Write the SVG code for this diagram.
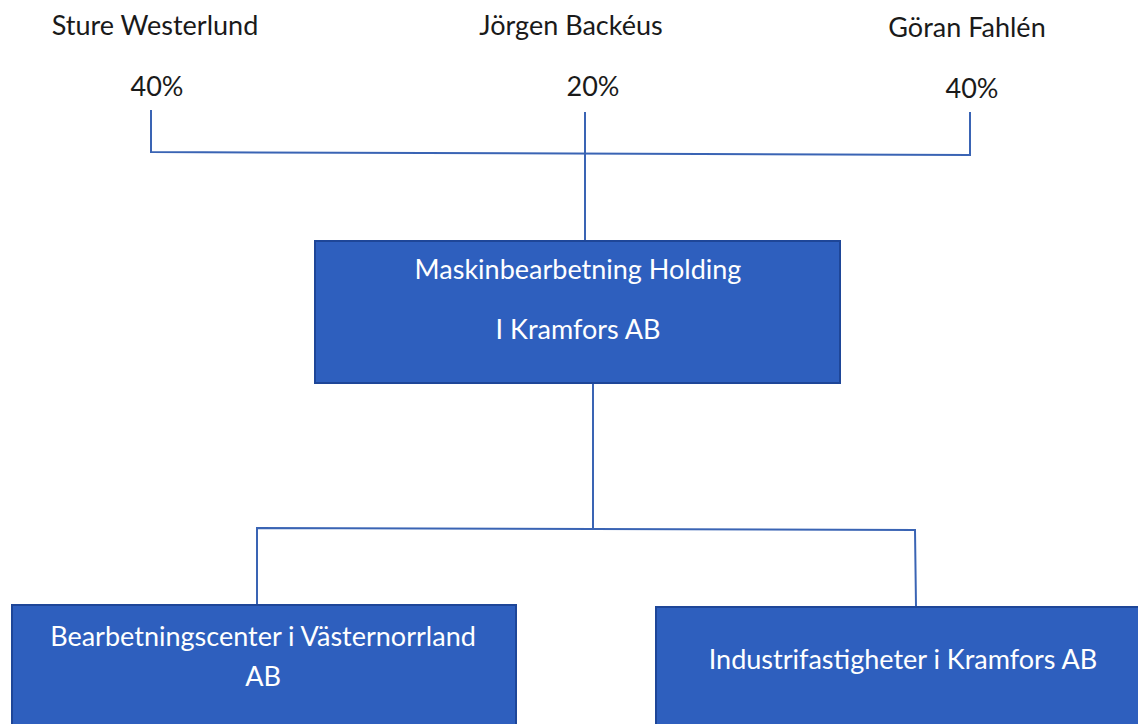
<svg xmlns="http://www.w3.org/2000/svg" width="1138" height="724" viewBox="0 0 1138 724">
<style>
.lbl{font-family:Lato,"Open Sans","Liberation Sans",sans-serif;font-size:27px;fill:#1a1a1a;text-anchor:middle}
.box{fill:#2e5fbe;stroke:#1e4698;stroke-width:2}
.bt{font-family:Lato,"Open Sans","Liberation Sans",sans-serif;font-size:27px;fill:#ffffff;text-anchor:middle}
.ln{stroke:#3a64b4;stroke-width:2;fill:none}
</style>
<rect width="1138" height="724" fill="#ffffff"/>
<g id="owners">
<text class="lbl" x="155" y="35">Sture Westerlund</text>
<text class="lbl" x="157" y="96">40%</text>
<text class="lbl" x="571" y="35">Jörgen Backéus</text>
<text class="lbl" x="593" y="96">20%</text>
<text class="lbl" x="967" y="37">Göran Fahlén</text>
<text class="lbl" x="972" y="98">40%</text>
</g>
<g id="connectors">
<polyline class="ln" points="151,110 151,152 970,155 970,112"/>
<line class="ln" x1="585" y1="112" x2="585" y2="240"/>
<line class="ln" x1="593" y1="384" x2="593" y2="529"/>
<polyline class="ln" points="257,604 257,528 915,530 916,606"/>
</g>
<g id="holding">
<rect class="box" x="315" y="241" width="525" height="142"/>
<text class="bt" x="578" y="279">Maskinbearbetning Holding</text>
<text class="bt" x="578" y="339">I Kramfors AB</text>
</g>
<g id="bearbetningscenter">
<rect class="box" x="12" y="605" width="504" height="130"/>
<text class="bt" x="263" y="646">Bearbetningscenter i Västernorrland</text>
<text class="bt" x="263" y="686">AB</text>
</g>
<g id="industrifastigheter">
<rect class="box" x="656" y="607" width="492" height="130"/>
<text class="bt" x="903" y="669">Industrifastigheter i Kramfors AB</text>
</g>
</svg>
